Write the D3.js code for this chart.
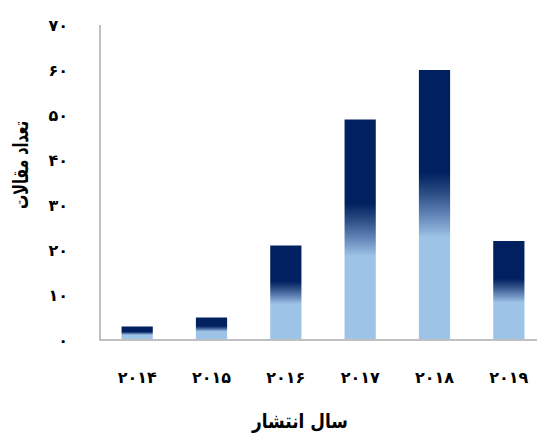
<!DOCTYPE html>
<html>
<head>
<meta charset="utf-8">
<script src="https://cdn.jsdelivr.net/npm/d3@7"></script>
<style>
  html, body { margin: 0; padding: 0; background: #fff; }
  svg { display: block; }
  text { font-family: "DejaVu Sans", "Noto Sans", sans-serif; font-weight: bold; fill: #000; }
</style>
</head>
<body>
<svg id="chart" width="537" height="436"></svg>
<script>
// Publication counts per year
const years = ["۲۰۱۴", "۲۰۱۵", "۲۰۱۶", "۲۰۱۷", "۲۰۱۸", "۲۰۱۹"];
const counts = [3, 5, 21, 49, 60, 22];
const yTicks = [0, 10, 20, 30, 40, 50, 60, 70];
const xTitle = "سال انتشار";
const yTitle = "تعداد مقالات";

const persianDigits = "۰۱۲۳۴۵۶۷۸۹";
const toPersian = n => String(n).replace(/\d/g, d => persianDigits[+d]);

const svg = d3.select("#chart");
const plot = { left: 100, right: 546, top: 25, bottom: 340 };

const x = d3.scaleBand()
  .domain(years)
  .range([plot.left, plot.right])
  .paddingInner(0.58)
  .paddingOuter(0.29);

const y = d3.scaleLinear()
  .domain([0, 70])
  .range([plot.bottom, plot.top]);

// Vertical gradient: navy at the top fading to light blue
const defs = svg.append("defs");
const grad = defs.append("linearGradient")
  .attr("id", "barFill")
  .attr("x1", 0).attr("y1", 0).attr("x2", 0).attr("y2", 1);
[
  [0, "#00205f"],
  [0.38, "#00205f"],
  [0.46, "#2f4f87"],
  [0.54, "#6486b9"],
  [0.62, "#9dc3e6"],
  [1, "#9dc3e6"]
].forEach(([o, c]) => grad.append("stop").attr("offset", o).attr("stop-color", c));

// Bars
svg.append("g")
  .selectAll("rect")
  .data(counts)
  .join("rect")
  .attr("x", (d, i) => x(years[i]))
  .attr("y", d => y(d))
  .attr("width", x.bandwidth())
  .attr("height", d => y(0) - y(d))
  .attr("fill", "url(#barFill)");

// Axis lines
svg.append("line")
  .attr("x1", plot.left).attr("x2", plot.left)
  .attr("y1", plot.top).attr("y2", plot.bottom)
  .attr("stroke", "#c0c0c0").attr("stroke-width", 2);
svg.append("line")
  .attr("x1", plot.left - 1).attr("x2", 537)
  .attr("y1", plot.bottom).attr("y2", plot.bottom)
  .attr("stroke", "#c0c0c0").attr("stroke-width", 2);

// Y tick labels
svg.append("g")
  .selectAll("text")
  .data(yTicks)
  .join("text")
  .attr("x", 68)
  .attr("y", d => y(d))
  .attr("dy", "0.35em")
  .attr("text-anchor", "end")
  .attr("font-size", 16)
  .text(d => toPersian(d));

// X tick labels
svg.append("g")
  .selectAll("text")
  .data(years)
  .join("text")
  .attr("x", d => x(d) + x.bandwidth() / 2)
  .attr("y", 377)
  .attr("dy", "0.35em")
  .attr("text-anchor", "middle")
  .attr("font-size", 16)
  .text(d => d);

// Axis titles
svg.append("text")
  .attr("x", 300)
  .attr("y", 421)
  .attr("dy", "0.35em")
  .attr("text-anchor", "middle")
  .attr("font-size", 20)
  .attr("textLength", 96)
  .attr("lengthAdjust", "spacingAndGlyphs")
  .text(xTitle);

svg.append("text")
  .attr("transform", "translate(21,165) rotate(-90)")
  .attr("dy", "0.35em")
  .attr("text-anchor", "middle")
  .attr("font-size", 21)
  .attr("textLength", 88)
  .attr("lengthAdjust", "spacingAndGlyphs")
  .text(yTitle);
</script>
</body>
</html>
